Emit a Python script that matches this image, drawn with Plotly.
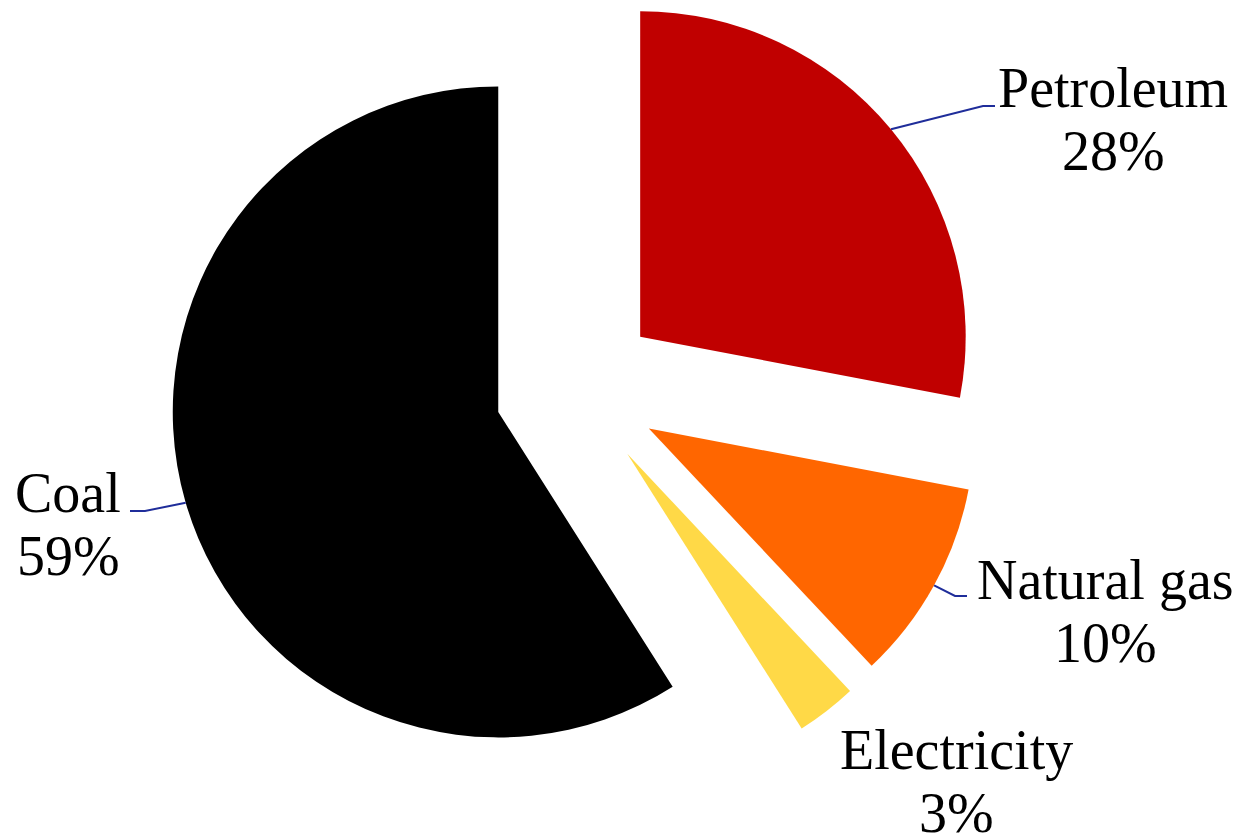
import math
import plotly.graph_objects as go

# ---- data ----
labels = ["Petroleum", "Natural gas", "Electricity", "Coal"]
values = [28, 10, 3, 59]
colors = ["#C00000", "#FF6600", "#FFD947", "#000000"]

# ---- layout (page pixels) ----
W, H = 1245, 837
OFF = 8                    # page body margin
CX, CY = 577, 389          # common pie centre before explosion
R = 325.5                  # slice radius
PULL = 82                  # explosion distance
FONT = "Liberation Serif"
FS = 56
LINE_GAP = 63
LEADER = "#1F2D9A"

# label centre x, first-line baseline y, leader elbow (x, y) and end x (or None)
label_layout = {
    "Petroleum":   dict(x=1113, base=105, elbow=(983, 106), end=995),
    "Natural gas": dict(x=1105, base=597, elbow=(955, 596), end=967),
    "Electricity": dict(x=956, base=767, elbow=None, end=None),
    "Coal":        dict(x=68, base=510, elbow=(145, 511), end=130),
}


def px(x):
    return (x - OFF) / W


def py(y):
    return 1 - (y - OFF) / H


total = sum(values)
fig = go.Figure()
shapes = []
annotations = []
cum = 0.0
for i, (lab, val) in enumerate(zip(labels, values)):
    mid = (cum + val / 2) / total * 2 * math.pi   # clockwise from 12 o'clock
    cum += val
    dx, dy = math.sin(mid), -math.cos(mid)
    cx, cy = CX + PULL * dx, CY + PULL * dy
    cols = ["rgba(0,0,0,0)"] * len(values)
    cols[i] = colors[i]
    fig.add_trace(go.Pie(
        labels=labels, values=values, sort=False, direction="clockwise",
        rotation=0, textinfo="none", hoverinfo="skip", showlegend=False,
        marker=dict(colors=cols, line=dict(width=0)),
        domain=dict(x=[px(cx - R), px(cx + R)], y=[py(cy + R), py(cy - R)]),
    ))
    lay = label_layout[lab]
    pct = f"{val / total * 100:.0f}%"
    for k, txt in enumerate([lab, pct]):
        annotations.append(dict(
            x=px(lay["x"]), y=py(lay["base"] + k * LINE_GAP - 17),
            xref="paper", yref="paper", text=txt, showarrow=False,
            xanchor="center", yanchor="middle",
            font=dict(family=FONT, size=FS, color="black"),
        ))
    if lay["elbow"] is not None:
        sx, sy = cx + R * dx, cy + R * dy
        ex, ey = lay["elbow"]
        path = f"M {px(sx)} {py(sy)} L {px(ex)} {py(ey)} L {px(lay['end'])} {py(ey)}"
        shapes.append(dict(type="path", xref="paper", yref="paper", path=path,
                           line=dict(color=LEADER, width=2)))

fig.update_layout(
    width=W, height=H, margin=dict(l=0, r=0, t=0, b=0),
    paper_bgcolor="white", plot_bgcolor="white",
    annotations=annotations, shapes=shapes,
)
fig.write_html("out.html")
